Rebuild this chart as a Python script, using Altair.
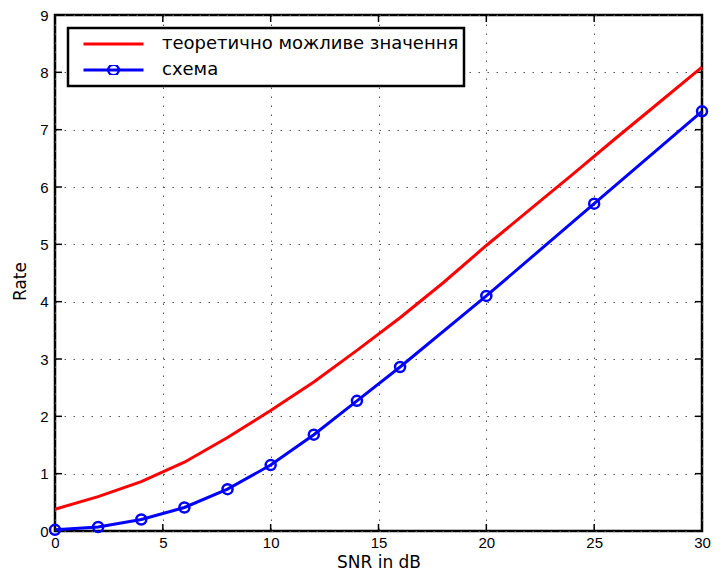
import altair as alt
import pandas as pd

series_names = ["теоретично можливе значення", "схема"]
series_colors = ["#ff0000", "#0000ff"]

snr_theory = [0, 2, 4, 6, 8, 10, 12, 14, 16, 18, 20, 22, 24, 26, 28, 30]
rate_theory = [0.38, 0.60, 0.86, 1.20, 1.63, 2.10, 2.60, 3.15, 3.72, 4.33, 4.98, 5.60, 6.22, 6.85, 7.47, 8.09]

snr_scheme = [0, 2, 4, 6, 8, 10, 12, 14, 16, 20, 25, 30]
rate_scheme = [0.02, 0.07, 0.20, 0.41, 0.73, 1.15, 1.68, 2.27, 2.86, 4.10, 5.71, 7.32]

x_ticks = [0, 5, 10, 15, 20, 25, 30]
y_ticks = [0, 1, 2, 3, 4, 5, 6, 7, 8, 9]

df = pd.DataFrame({
    "snr": snr_theory + snr_scheme,
    "rate": rate_theory + rate_scheme,
    "series": [series_names[0]] * len(snr_theory) + [series_names[1]] * len(snr_scheme),
})
df_pts = df[df["series"] == series_names[1]].copy()
df_pts["marker"] = df_pts["series"]
xt = pd.DataFrame({"snr": x_ticks})
yt = pd.DataFrame({"rate": y_ticks})

W, H = 647, 516
xscale = alt.Scale(domain=[0, 30], nice=False, zero=False)
yscale = alt.Scale(domain=[0, 9], nice=False, zero=False)

x_axis = alt.Axis(values=x_ticks, title="SNR in dB", grid=True, ticks=False, domain=False,
                  labelPadding=4, labelFlush=False, labelOverlap=False,
                  titleY=36, titleBaseline="alphabetic")
y_axis = alt.Axis(values=y_ticks, title="Rate", grid=True, ticks=False, domain=False,
                  labelPadding=7, labelOverlap=False,
                  titleX=-35, titleY=266, titleAngle=270, titleAlign="center", titleBaseline="middle")

X = alt.X("snr:Q", scale=xscale, axis=x_axis)
Y = alt.Y("rate:Q", scale=yscale, axis=y_axis)

legend = alt.Legend(
    title=None, orient="none", legendX=13, legendY=13,
    symbolSize=3600, symbolStrokeWidth=3, symbolOffset=9, symbolType="stroke",
    padding=5, labelOffset=17, clipHeight=22, rowPadding=4, labelLimit=500,
    labelFont="DejaVu Sans", labelFontSize=18, labelColor="black",
    strokeColor="black", fillColor="white", zindex=1,
)

marker_legend = alt.Legend(
    title=None, orient="none", legendX=52, legendY=50,
    symbolSize=110, symbolStrokeWidth=2.5, symbolStrokeColor="#0000ff",
    symbolFillColor="transparent", symbolType="circle", symbolOffset=0,
    padding=0, clipHeight=10, labelExpr="''", labelFontSize=1, labelOffset=0,
    strokeColor="transparent", fillColor="transparent", zindex=2,
)

lines = alt.Chart(df).mark_line(strokeWidth=3).encode(
    x=X, y=Y,
    color=alt.Color("series:N", scale=alt.Scale(domain=series_names, range=series_colors),
                    sort=series_names, legend=legend),
)

points = alt.Chart(df_pts).mark_point(filled=False, size=100, strokeWidth=2.5, color="#0000ff", opacity=1).encode(
    x=X, y=Y,
    shape=alt.Shape("marker:N", scale=alt.Scale(domain=[series_names[1]], range=["circle"]),
                    legend=marker_legend),
)

tick_style = dict(color="black", strokeWidth=1.5)
xb = alt.Chart(xt).mark_rule(**tick_style).encode(x=X, y=alt.value(H), y2=alt.value(H - 7))
xtop = alt.Chart(xt).mark_rule(**tick_style).encode(x=X, y=alt.value(0), y2=alt.value(7))
yl = alt.Chart(yt).mark_rule(**tick_style).encode(y=Y, x=alt.value(0), x2=alt.value(7))
yr = alt.Chart(yt).mark_rule(**tick_style).encode(y=Y, x=alt.value(W), x2=alt.value(W - 7))

chart = alt.layer(xb, xtop, yl, yr, lines, points).properties(
    width=W, height=H,
    autosize=alt.AutoSizeParams(type="none"),
    padding={"left": 47, "top": 7, "right": 10, "bottom": 40},
).configure_view(
    stroke="black", strokeWidth=2.5,
).configure_axis(
    labelFont="Liberation Sans", labelFontSize=15, labelColor="black",
    titleFont="DejaVu Sans", titleFontSize=17, titleFontWeight="normal", titleColor="black",
    gridColor="#555555", gridDash=[1.5, 7.5], gridWidth=1, gridOpacity=1,
).configure_legend(
    strokeWidth=2.5, cornerRadius=0,
)

chart.save("out.html", embed_options={"renderer": "svg", "actions": False})
